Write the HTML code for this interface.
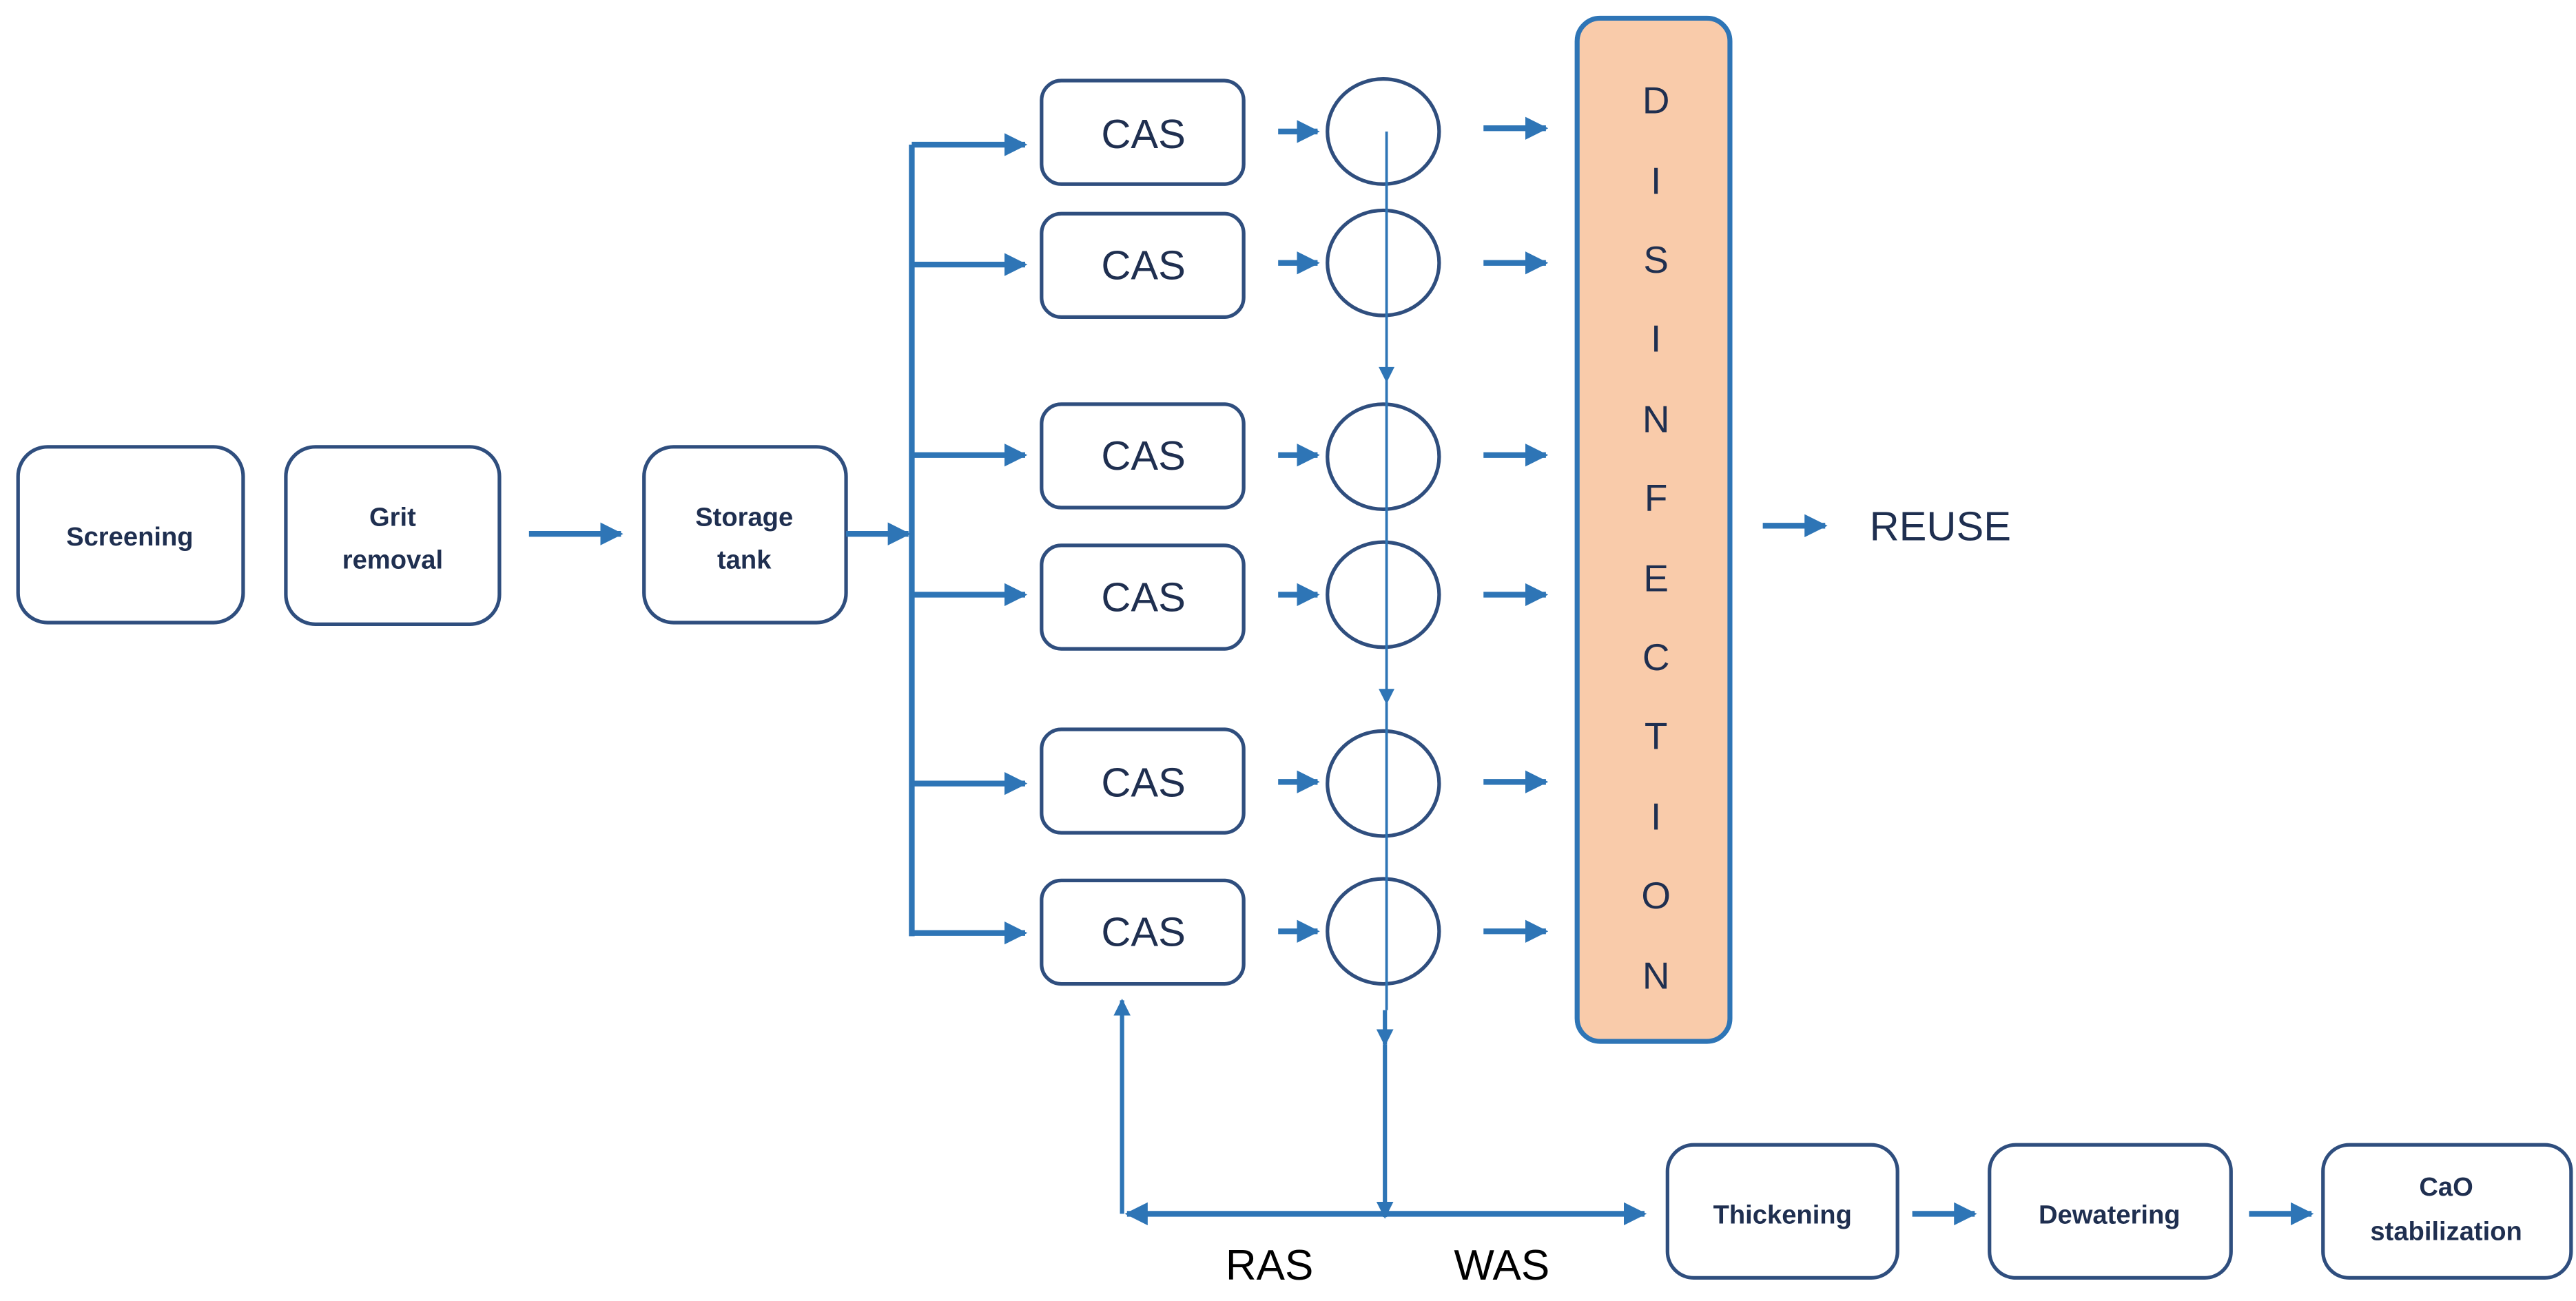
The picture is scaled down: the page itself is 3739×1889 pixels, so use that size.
<!DOCTYPE html>
<html><head><meta charset="utf-8"><style>
html,body{margin:0;padding:0;background:#fff;}
svg{display:block;}
text{font-family:"Liberation Sans",sans-serif;}
</style></head><body>
<svg width="3739" height="1889" viewBox="0 0 1568 792" xmlns="http://www.w3.org/2000/svg">
<defs>
<marker id="a" viewBox="0 0 10 10" refX="9" refY="5" markerWidth="4" markerHeight="4" orient="auto-start-reverse" markerUnits="strokeWidth"><path d="M0,0 L10,5 L0,10 z" fill="#2E75B6"/></marker>
<marker id="t" viewBox="0 0 10 10" refX="9" refY="5" markerWidth="8" markerHeight="6" orient="auto-start-reverse" markerUnits="strokeWidth"><path d="M0,0 L10,5 L0,10 z" fill="#2E75B6"/></marker>
</defs>
<rect width="1568" height="792" fill="#fff"/>
<g fill="none" stroke="#2F4E7E" stroke-width="2.2">
<rect x="11" y="272" width="137" height="107" rx="18"/>
<rect x="174" y="272" width="130" height="108" rx="18"/>
<rect x="392" y="272" width="123" height="107" rx="18"/>
<rect x="634" y="49" width="123" height="63" rx="12"/>
<rect x="634" y="130" width="123" height="63" rx="12"/>
<rect x="634" y="246" width="123" height="63" rx="12"/>
<rect x="634" y="332" width="123" height="63" rx="12"/>
<rect x="634" y="444" width="123" height="63" rx="12"/>
<rect x="634" y="536" width="123" height="63" rx="12"/>
<ellipse cx="842" cy="80" rx="34" ry="32"/>
<ellipse cx="842" cy="160" rx="34" ry="32"/>
<ellipse cx="842" cy="278" rx="34" ry="32"/>
<ellipse cx="842" cy="362" rx="34" ry="32"/>
<ellipse cx="842" cy="477" rx="34" ry="32"/>
<ellipse cx="842" cy="567" rx="34" ry="32"/>
<rect x="1015" y="697" width="140" height="81" rx="16"/>
<rect x="1211" y="697" width="147" height="81" rx="16"/>
<rect x="1414" y="697" width="151" height="81" rx="16"/>
</g>
<rect x="960" y="11" width="93" height="623" rx="14" fill="#F9CBAA" stroke="#2E75B6" stroke-width="3"/>
<g stroke="#2E75B6" stroke-width="3.5" fill="none">
<line x1="322" y1="325" x2="378" y2="325" marker-end="url(#a)"/>
<line x1="515" y1="325" x2="553" y2="325" marker-end="url(#a)"/>
<line x1="555" y1="88" x2="555" y2="570"/>
<line x1="555" y1="88" x2="624" y2="88" marker-end="url(#a)"/>
<line x1="555" y1="161" x2="624" y2="161" marker-end="url(#a)"/>
<line x1="555" y1="277" x2="624" y2="277" marker-end="url(#a)"/>
<line x1="555" y1="362" x2="624" y2="362" marker-end="url(#a)"/>
<line x1="555" y1="477" x2="624" y2="477" marker-end="url(#a)"/>
<line x1="555" y1="568" x2="624" y2="568" marker-end="url(#a)"/>
<line x1="778" y1="80" x2="802" y2="80" marker-end="url(#a)"/>
<line x1="778" y1="160" x2="802" y2="160" marker-end="url(#a)"/>
<line x1="778" y1="277" x2="802" y2="277" marker-end="url(#a)"/>
<line x1="778" y1="362" x2="802" y2="362" marker-end="url(#a)"/>
<line x1="778" y1="476" x2="802" y2="476" marker-end="url(#a)"/>
<line x1="778" y1="567" x2="802" y2="567" marker-end="url(#a)"/>
<line x1="903" y1="78" x2="941" y2="78" marker-end="url(#a)"/>
<line x1="903" y1="160" x2="941" y2="160" marker-end="url(#a)"/>
<line x1="903" y1="277" x2="941" y2="277" marker-end="url(#a)"/>
<line x1="903" y1="362" x2="941" y2="362" marker-end="url(#a)"/>
<line x1="903" y1="476" x2="941" y2="476" marker-end="url(#a)"/>
<line x1="903" y1="567" x2="941" y2="567" marker-end="url(#a)"/>
<line x1="1073" y1="320" x2="1111" y2="320" marker-end="url(#a)"/>
<line x1="686" y1="739" x2="1001" y2="739" marker-start="url(#a)" marker-end="url(#a)"/>
<line x1="1164" y1="739" x2="1202" y2="739" marker-end="url(#a)"/>
<line x1="1369" y1="739" x2="1407" y2="739" marker-end="url(#a)"/>
</g>
<g stroke="#2E75B6" stroke-width="1.6" fill="none">
<line x1="844" y1="80" x2="844" y2="232" marker-end="url(#t)"/>
<line x1="844" y1="232" x2="844" y2="428" marker-end="url(#t)"/>
<line x1="844" y1="428" x2="844" y2="615"/>
</g>
<g stroke="#2E75B6" stroke-width="2.6" fill="none">
<line x1="843" y1="615" x2="843" y2="636" marker-end="url(#a)"/>
<line x1="843" y1="636" x2="843" y2="741" marker-end="url(#a)"/>
<line x1="683" y1="739" x2="683" y2="609" marker-end="url(#a)"/>
</g>
<g fill="#1F2F50" font-weight="bold" font-size="16" text-anchor="middle">
<text x="79" y="332">Screening</text>
<text x="239" y="320">Grit</text>
<text x="239" y="346">removal</text>
<text x="453" y="320">Storage</text>
<text x="453" y="346">tank</text>
<text x="1085" y="745">Thickening</text>
<text x="1284" y="745">Dewatering</text>
<text x="1489" y="728">CaO</text>
<text x="1489" y="755">stabilization</text>
</g>
<g fill="#1F2F50" font-size="25" text-anchor="middle">
<text x="696" y="90">CAS</text>
<text x="696" y="170">CAS</text>
<text x="696" y="286">CAS</text>
<text x="696" y="372">CAS</text>
<text x="696" y="485">CAS</text>
<text x="696" y="576">CAS</text>
</g>
<g fill="#1F2F50" font-size="23" text-anchor="middle">
<text x="1008" y="69">D</text><text x="1008" y="118">I</text><text x="1008" y="166">S</text>
<text x="1008" y="214">I</text><text x="1008" y="263">N</text><text x="1008" y="311">F</text>
<text x="1008" y="360">E</text><text x="1008" y="408">C</text><text x="1008" y="456">T</text>
<text x="1008" y="505">I</text><text x="1008" y="553">O</text><text x="1008" y="602">N</text>
</g>
<text x="1138" y="329" fill="#1F2F50" font-size="25">REUSE</text>
<text x="746" y="779" fill="#000" font-size="26">RAS</text>
<text x="885" y="779" fill="#000" font-size="26">WAS</text>
</svg>
</body></html>
